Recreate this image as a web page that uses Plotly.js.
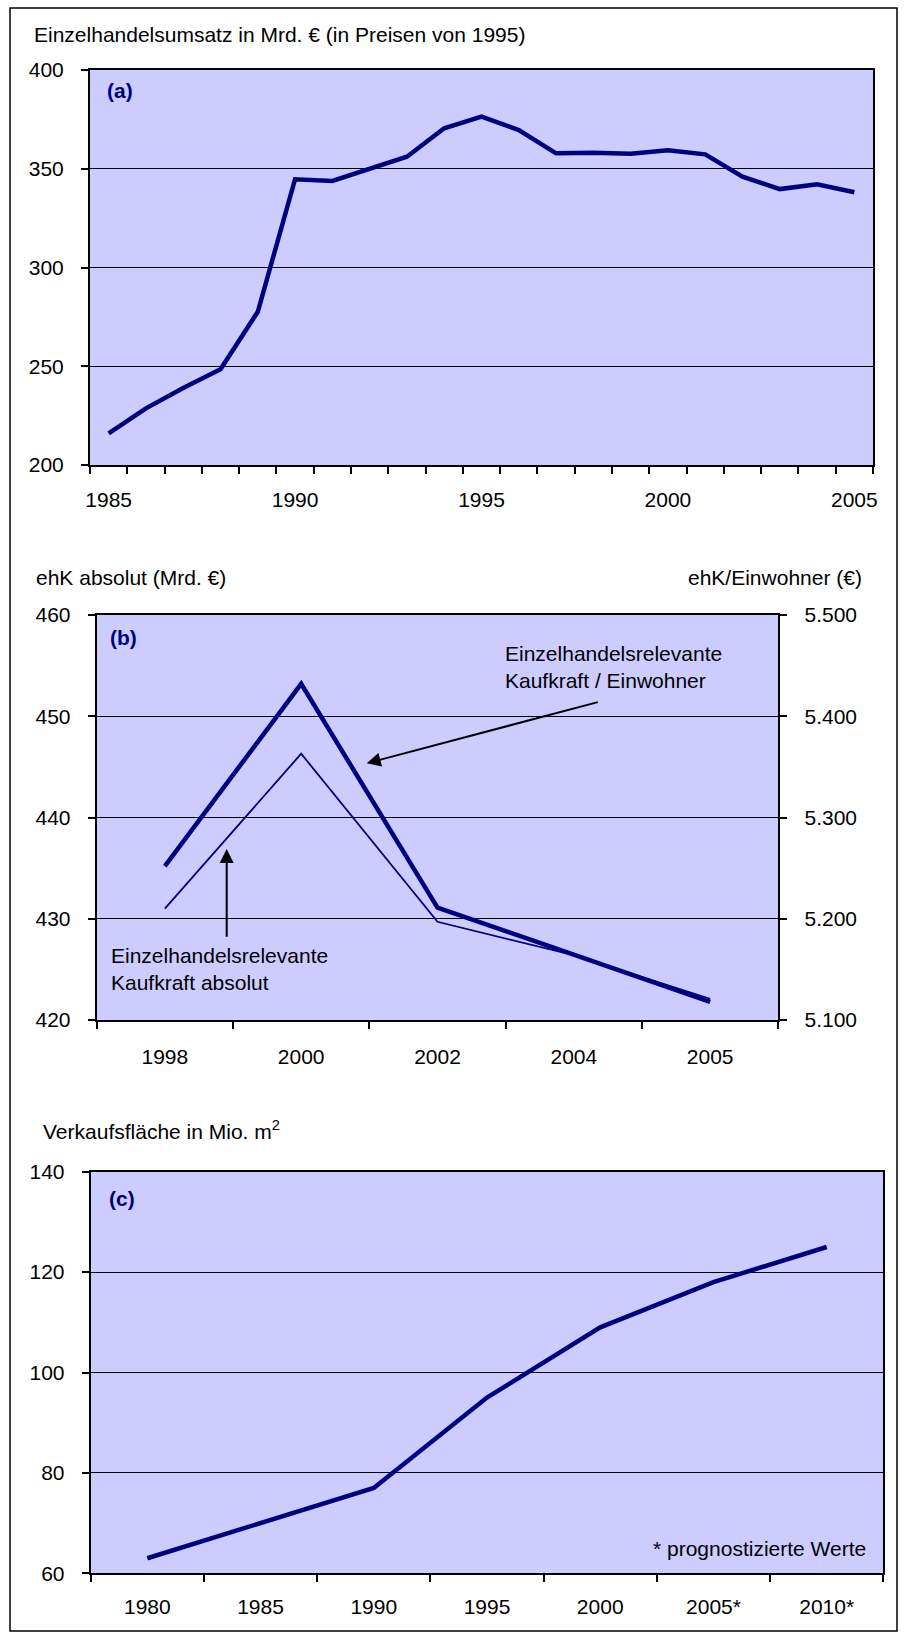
<!DOCTYPE html>
<html>
<head>
<meta charset="utf-8">
<script src="https://cdn.plot.ly/plotly-3.0.1.min.js"></script>
<style>
  html, body { margin: 0; padding: 0; background: #fff; }
  #chart { width: 906px; height: 1634px; }
</style>
</head>
<body>
<div id="chart"></div>
<script>
// ---- Data ----
const jahreA = [1985,1986,1987,1988,1989,1990,1991,1992,1993,1994,1995,1996,1997,1998,1999,2000,2001,2002,2003,2004,2005];
const umsatzA = [216,228.7,239,248.5,277.6,344.7,343.8,350.2,356.1,370.5,376.4,369.6,357.8,358.1,357.6,359.3,357.3,346.0,339.7,342.1,338.1];
const tickJahreA = [1985,1990,1995,2000,2005];

const jahreB = ['1998','2000','2002','2004','2005'];
const ehkAbsolut = [431.0,446.3,429.7,426.4,422.1];
const ehkEinwohner = [5252,5432,5211,5165,5118];

const jahreC = ['1980','1985','1990','1995','2000','2005*','2010*'];
const flaeche = [63,70,77,95,109,118,125];

// category positions (index along the axis)
const posB = jahreB.map((_, i) => i);
const posC = jahreC.map((_, i) => i);

// ---- helpers (pixel -> paper) ----
const W = 906, H = 1634;
const px = v => v / W;
const py = v => 1 - v / H;

const FONT = 'Liberation Sans, Arial, Helvetica, sans-serif';
const NAVY = '#000080';
const BG = '#CCCCFF';
const FS = 21;

const minorTicks = t0 => ({tick0: t0, dtick: 1, ticks: 'outside', ticklen: 7, tickwidth: 2, tickcolor: '#000', showgrid: false});

const baseX = {
  showline: true, linecolor: '#000', linewidth: 2, mirror: true,
  showgrid: false, zeroline: false, fixedrange: true, type: 'linear',
  tickfont: {family: FONT, size: FS, color: '#000'},
  ticks: '', tickmode: 'array', ticklabelstandoff: 15
};
const baseY = {
  showline: true, linecolor: '#000', linewidth: 2,
  showgrid: true, gridcolor: '#000', gridwidth: 1, zeroline: false, fixedrange: true,
  tickfont: {family: FONT, size: FS, color: '#000'},
  ticks: 'outside', ticklen: 7, tickwidth: 2, tickcolor: '#000',
  ticklabelstandoff: 13
};

const traces = [
  {x: jahreA, y: umsatzA, xaxis: 'x', yaxis: 'y', type: 'scatter', mode: 'lines',
   line: {color: NAVY, width: 4.5}, hoverinfo: 'skip'},
  {x: posB, y: ehkEinwohner, xaxis: 'x2', yaxis: 'y3', type: 'scatter', mode: 'lines',
   line: {color: NAVY, width: 4.5}, hoverinfo: 'skip'},
  {x: posB, y: ehkAbsolut, xaxis: 'x2', yaxis: 'y2', type: 'scatter', mode: 'lines',
   line: {color: NAVY, width: 1.8}, hoverinfo: 'skip'},
  {x: posC, y: flaeche, xaxis: 'x3', yaxis: 'y4', type: 'scatter', mode: 'lines',
   line: {color: NAVY, width: 4.5}, hoverinfo: 'skip'}
];

const txt = (text, x, y, xanchor, opts) => Object.assign({
  text: text, xref: 'paper', yref: 'paper', x: px(x), y: py(y),
  xanchor: xanchor, yanchor: 'middle', showarrow: false, align: 'left',
  font: {family: FONT, size: FS, color: '#000'}
}, opts || {});

const layout = {
  width: W, height: H,
  margin: {l: 0, r: 0, t: 0, b: 0},
  paper_bgcolor: '#fff',
  plot_bgcolor: BG,
  showlegend: false,
  separators: ',.',
  xaxis: Object.assign({}, baseX, {
    domain: [px(90), px(873)], anchor: 'y',
    range: [1984.5, 2005.5], tickvals: tickJahreA,
    ticktext: tickJahreA.map(String),
    minor: minorTicks(1984.5)
  }),
  yaxis: Object.assign({}, baseY, {
    domain: [py(465), py(70)], anchor: 'x', range: [200, 400], dtick: 50, mirror: true
  }),
  xaxis2: Object.assign({}, baseX, {
    domain: [px(96.7), px(778.3)], anchor: 'y2',
    range: [-0.5, jahreB.length - 0.5], tickvals: posB, ticktext: jahreB,
    minor: minorTicks(-0.5), ticklabelstandoff: 17
  }),
  yaxis2: Object.assign({}, baseY, {
    domain: [py(1020), py(615)], anchor: 'x2', range: [420, 460], dtick: 10
  }),
  yaxis3: Object.assign({}, baseY, {
    overlaying: 'y2', anchor: 'x2', side: 'right', range: [5100, 5500], dtick: 100,
    tickformat: ',d', showgrid: false
  }),
  xaxis3: Object.assign({}, baseX, {
    domain: [px(90.7), px(883.3)], anchor: 'y4',
    range: [-0.5, jahreC.length - 0.5], tickvals: posC, ticktext: jahreC,
    minor: minorTicks(-0.5), ticklabelstandoff: 13
  }),
  yaxis4: Object.assign({}, baseY, {
    domain: [py(1573.3), py(1171.7)], anchor: 'x3', range: [60, 140], dtick: 20, mirror: true
  }),
  annotations: [
    txt('Einzelhandelsumsatz in Mrd. € (in Preisen von 1995)', 32, 35, 'left'),
    txt('<b>(a)</b>', 105, 91, 'left', {font: {family: FONT, size: FS, color: NAVY}}),
    txt('ehK absolut (Mrd. €)', 34, 577, 'left'),
    txt('ehK/Einwohner (€)', 864, 577, 'right'),
    txt('<b>(b)</b>', 108, 637, 'left', {font: {family: FONT, size: FS, color: NAVY}}),
    txt('Einzelhandelsrelevante<br>Kaufkraft / Einwohner', 503, 667, 'left'),
    txt('Einzelhandelsrelevante<br>Kaufkraft absolut', 109, 969, 'left'),
    {text: '', xref: 'paper', yref: 'paper', x: px(366.7), y: py(763.3),
     ax: 232.6, ay: -61.6, axref: 'pixel', ayref: 'pixel',
     showarrow: true, arrowhead: 2, arrowsize: 1.4, arrowwidth: 2, arrowcolor: '#000', standoff: 0},
    {text: '', xref: 'paper', yref: 'paper', x: px(226.7), y: py(849),
     ax: 0, ay: 89.3, axref: 'pixel', ayref: 'pixel',
     showarrow: true, arrowhead: 2, arrowsize: 1.4, arrowwidth: 2, arrowcolor: '#000', standoff: 0},
    txt('Verkaufsfläche in Mio. m<sup>2</sup>', 40.7, 1130, 'left'),
    txt('<b>(c)</b>', 106.7, 1198, 'left', {font: {family: FONT, size: FS, color: NAVY}}),
    txt('* prognostizierte Werte', 868.3, 1548, 'right')
  ],
  shapes: [
    {type: 'rect', xref: 'paper', yref: 'paper', x0: px(10), x1: px(897), y0: py(1631), y1: py(8),
     line: {color: '#000', width: 1.5}, fillcolor: 'rgba(0,0,0,0)', layer: 'below'}
  ]
};

Plotly.newPlot('chart', traces, layout, {staticPlot: true, displayModeBar: false});
</script>
</body>
</html>
